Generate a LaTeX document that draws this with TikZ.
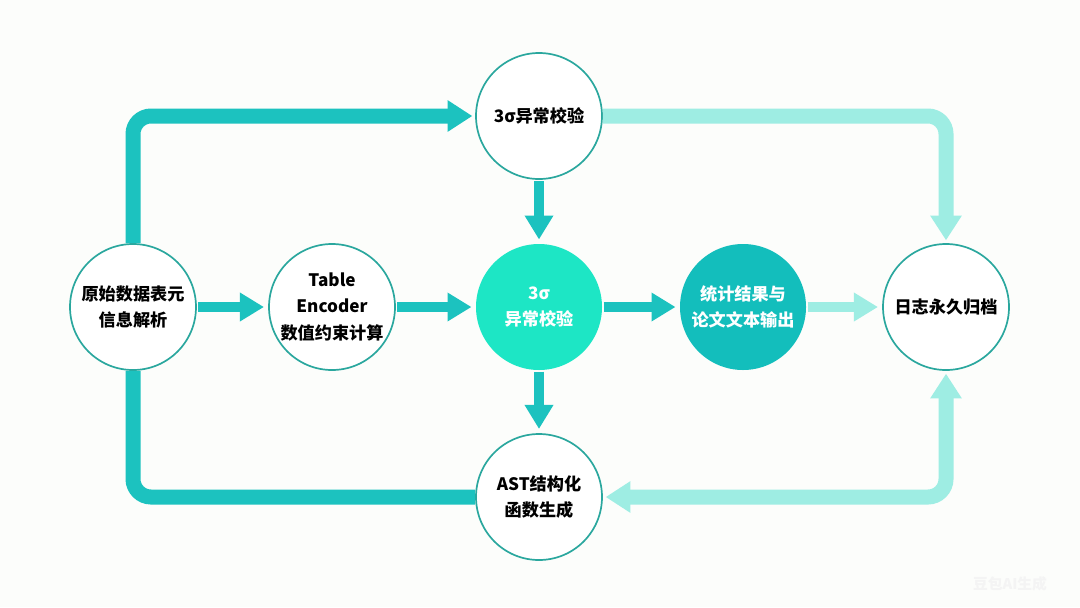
\documentclass[tikz,border=0pt]{standalone}
\usepackage{fontspec}
\setmainfont{Noto Sans CJK SC}
\usetikzlibrary{arrows.meta}

\definecolor{tealline}{HTML}{1CC2BF}
\definecolor{teallight}{HTML}{9EEDE3}
\definecolor{tealring}{HTML}{2AA79E}
\definecolor{tealmint}{HTML}{1DE6C5}
\definecolor{tealdeep}{HTML}{13BEBC}
\definecolor{paper}{HTML}{FCFDFB}

\tikzset{
  stage/.style={circle,minimum size=3.15cm,inner sep=0pt,align=center,
    font=\bfseries\fontsize{12.2}{18.5}\selectfont},
  plain/.style={stage,draw=tealring,line width=1.2pt,fill=white,text=black},
  filled/.style={stage,fill=#1,text=white},
  flow/.style={line width=0.25cm,tealline,shorten >=3pt,shorten <=1pt,
    -{Triangle[width=0.68cm,length=0.6cm]}},
  loop/.style={line width=0.375cm,tealline,rounded corners=0.45cm},
  bighead/.style={-{Triangle[width=0.75cm,length=0.62cm]}}
}

\begin{document}
\begin{tikzpicture}
  \fill[paper] (0,0) rectangle (27,-15.175);
  \useasboundingbox (0,0) rectangle (27,-15.175);

% middle row
  \node[plain] (parse) at (3.325,-7.675) {原始数据表元\\信息解析};
  \node[plain] (encode) at (8.3,-7.675) {Table\\Encoder\\数值约束计算};
  \node[filled=tealmint] (check) at (13.475,-7.675) {3σ\\异常校验};
  \node[filled=tealdeep] (output) at (18.575,-7.675) {统计结果与\\论文文本输出};
  \node[plain] (archive) at (23.65,-7.675) {日志永久归档};
% top and bottom
  \node[plain] (topcheck) at (13.475,-2.9) {3σ异常校验};
  \node[plain] (ast) at (13.475,-12.425) {AST结构化\\函数生成};

% straight arrows
  \draw[flow] (parse) -- (encode);
  \draw[flow] (encode) -- (check);
  \draw[flow] (check) -- (output);
  \draw[flow,teallight] (output) -- (archive);
  \draw[flow] (topcheck) -- (check);
  \draw[flow] (check) -- (ast);

% outer loops
  \draw[loop,bighead,shorten >=2pt] (parse.north) |- (topcheck.west);
  \draw[loop,teallight,bighead,shorten >=2pt] (topcheck.east) -| (archive.north);
  \draw[loop] (parse.south) |- (ast.west);
  \draw[loop,teallight,{Triangle[width=0.75cm,length=0.62cm]}-{Triangle[width=0.75cm,length=0.62cm]},
    shorten >=2pt,shorten <=2pt] (ast.east) -| (archive.south);

  \node[text=gray!9,font=\bfseries\fontsize{10.5}{12}\selectfont] (mark) at (25.25,-14.6) {豆包AI生成};
\end{tikzpicture}
\end{document}
